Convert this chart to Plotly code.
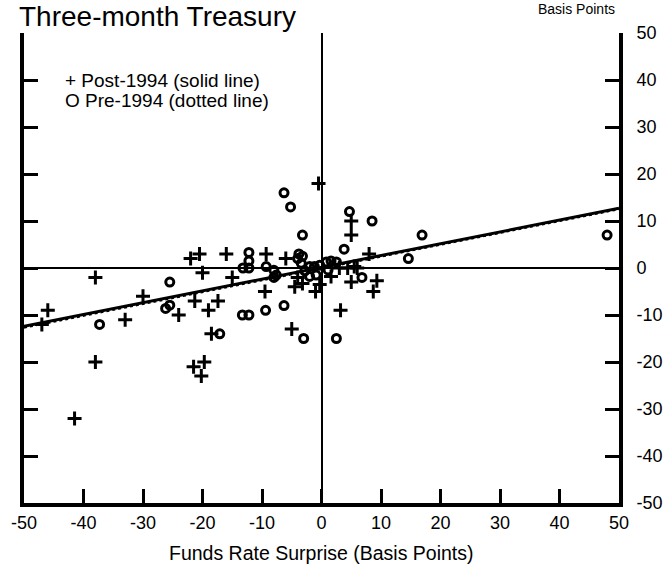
import plotly.graph_objects as go

# Post-1994 observations (+)
post_x = [-47, -46, -41.5, -38, -38, -33, -30, -24, -22, -21.5, -21.3, -20.5, -20, -20.2,
          -19.7, -19, -18.5, -17.4, -16, -15, -9.3, -9.5, -6, -5, -4.5, -4, -3.2, -1,
          -0.3, -0.5, 1.6, 3, 3.2, 4.4, 5.5, 5, 5, 5, 6, 8, 9.3, 8.7]
post_y = [-12, -9, -32, -2, -20, -11, -6, -10, 2, -21, -7, 3, -1, -23,
          -20, -9, -14, -7, 3, -2, 3, -5, 2, -13, -4, -2, -3.3, -5,
          -3.5, 18, -1.8, 0, -9, 0, 0.3, -3, 7, 10, 0, 3, -2.7, -5]

# Pre-1994 observations (o)
pre_x = [-37.3, -25.5, -26.2, -25.5, -17.1, -13.3, -12.2, -12.2, -12.2, -12.2, -13.2, -9.3,
         -9.4, -8, -7.6, -8, -6.3, -5.2, -6.3, -3.2, -3.8, -3.2, -4, -3.4, -2.8, -2,
         -2, -1.2, -0.9, -0.3, 0.8, 1.1, 1.6, 2.5, -3, 2.5, 3.8, 4.7, 6.8, 8.5, 14.6,
         16.9, 48]
pre_y = [-12, -3, -8.6, -7.9, -14, -10, -10, 3.3, 1.5, 0, 0, 0.3,
         -9, -0.5, -1.5, -2, 16, 13, -8, 7, 3, 2.5, 2, 1, -0.6, -1.8,
         0.3, 0.3, -1.5, 0.6, 1.3, -0.4, 1.5, 1.3, -15, -15, 4, 12, -2, 10, 2,
         7, 7]

# Fitted lines
line_x = [-50, 50]
solid_y = [-12.4, 12.7]
dotted_y = [-12.7, 12.5]

tick_vals = [-50, -40, -30, -20, -10, 0, 10, 20, 30, 40, 50]
tick_text = [str(v) for v in tick_vals]

FONT = "Liberation Sans, Arial, sans-serif"

fig = go.Figure()
fig.add_trace(go.Scatter(x=line_x, y=solid_y, mode="lines",
                         line=dict(color="black", width=3), showlegend=False))
fig.add_trace(go.Scatter(x=line_x, y=dotted_y, mode="lines", yaxis="y2",
                         line=dict(color="black", width=2, dash="dot"), showlegend=False))
fig.add_trace(go.Scatter(x=post_x, y=post_y, mode="markers",
                         marker=dict(symbol="cross-thin-open", size=10, color="black",
                                     line=dict(color="black", width=3)),
                         showlegend=False))
fig.add_trace(go.Scatter(x=pre_x, y=pre_y, mode="markers",
                         marker=dict(symbol="circle-open", size=8, color="black",
                                     line=dict(color="black", width=3)),
                         showlegend=False))

axis_common = dict(range=[-50, 50], tickvals=tick_vals, ticktext=tick_text,
                   showline=True, linewidth=4, linecolor="black",
                   ticks="inside", ticklen=14, tickwidth=3, tickcolor="black",
                   showgrid=False, automargin=False,
                   tickfont=dict(family=FONT, size=18, color="black"))

fig.update_layout(
    width=665, height=571,
    margin=dict(l=24, r=46, t=33, b=68),
    paper_bgcolor="white", plot_bgcolor="white",
    font=dict(family=FONT, color="black"),
    xaxis=dict(**axis_common, zeroline=True, zerolinecolor="black", zerolinewidth=1.5,
               mirror=False),
    yaxis=dict(**axis_common, zeroline=True, zerolinecolor="black", zerolinewidth=1.5,
               showticklabels=False, side="left"),
    yaxis2=dict(**axis_common, overlaying="y", side="right", zeroline=False,
                showticklabels=True, ticklabelstandoff=10),
    annotations=[
        dict(text="Three-month Treasury", xref="paper", yref="paper",
             x=-0.012, y=1.036, xanchor="left", yanchor="middle", showarrow=False,
             font=dict(family=FONT, size=28, color="black")),
        dict(text="Basis Points", xref="paper", yref="paper",
             x=0.997, y=1.05, xanchor="right", yanchor="middle", showarrow=False,
             font=dict(family=FONT, size=14, color="black")),
        dict(text="+ Post-1994 (solid line)", xref="paper", yref="paper",
             x=0.0655, y=0.898, xanchor="left", yanchor="middle", showarrow=False,
             font=dict(family=FONT, size=19, color="black")),
        dict(text="O Pre-1994 (dotted line)", xref="paper", yref="paper",
             x=0.0655, y=0.857, xanchor="left", yanchor="middle", showarrow=False,
             font=dict(family=FONT, size=19, color="black")),
        dict(text="Funds Rate Surprise (Basis Points)", xref="paper", yref="paper",
             x=0.5, y=-0.106, xanchor="center", yanchor="middle", showarrow=False,
             font=dict(family=FONT, size=19.5, color="black")),
    ],
)

fig.write_html("out.html")
